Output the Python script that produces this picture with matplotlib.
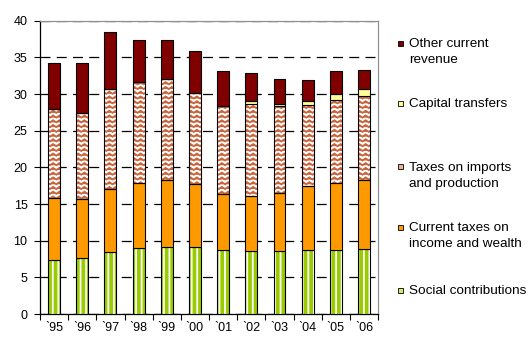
import warnings
import numpy as np
import matplotlib
matplotlib.use('Agg')
import matplotlib.pyplot as plt
from matplotlib import hatch as mhatch
from matplotlib.path import Path
from matplotlib.patches import Rectangle

warnings.filterwarnings('ignore')

# data
years = ['`95', '`96', '`97', '`98', '`99', '`00', '`01', '`02', '`03', '`04', '`05', '`06']
social = [7.3, 7.7, 8.4, 8.95, 9.2, 9.2, 8.7, 8.55, 8.55, 8.7, 8.7, 8.8]
income = [8.5, 7.95, 8.7, 8.85, 9.1, 8.5, 7.7, 7.55, 8.0, 8.7, 9.1, 9.5]
imports = [12.2, 11.75, 13.6, 13.8, 13.8, 12.5, 11.9, 12.55, 11.85, 11.1, 11.4, 11.4]
capital = [0.0, 0.0, 0.0, 0.0, 0.0, 0.0, 0.1, 0.35, 0.3, 0.5, 0.8, 1.0]
other = [6.2, 6.8, 7.7, 5.8, 5.2, 5.7, 4.75, 3.9, 3.3, 2.9, 3.15, 2.6]

labels = ['Other current\nrevenue', 'Capital transfers', 'Taxes on imports\nand production',
          'Current taxes on\nincome and wealth', 'Social contributions']
colors = ['#800000', '#ffff99', '#f0b090', '#ff9900', '#ccee66']


# zigzag hatch like the excel fill ('~')
class WaveHatch(mhatch.HatchPatternBase):
    def __init__(self, hatch, density):
        self.rows = 21 if '~' in hatch else 0
        self.humps = 16
        self.num_vertices = self.rows * (2 * self.humps + 1)

    def set_vertices_and_codes(self, vertices, codes):
        n = 2 * self.humps + 1
        xs = np.linspace(0, 1, n)
        step = 1.0 / self.rows
        for i in range(self.rows):
            base = (i + 0.3) * step
            ys = base + np.where(np.arange(n) % 2 == 1, 0.45 * step, 0.0)
            vertices[i * n:(i + 1) * n, 0] = xs
            vertices[i * n:(i + 1) * n, 1] = ys
            codes[i * n] = Path.MOVETO
            codes[i * n + 1:(i + 1) * n] = Path.LINETO


mhatch._hatch_types.append(WaveHatch)

plt.rcParams['font.family'] = ['Liberation Sans', 'DejaVu Sans']
plt.rcParams['hatch.linewidth'] = 1.3

W, H = 529, 338
fig = plt.figure(figsize=(W / 100, H / 100), dpi=100)
ax = fig.add_axes([0.0756, 0.071, 0.639, 0.8678])

x = np.arange(len(years))
w = 0.42
social = np.array(social)
income = np.array(income)
imports = np.array(imports)
capital = np.array(capital)
other = np.array(other)

b1 = social
b2 = b1 + income
b3 = b2 + imports
b4 = b3 + capital

ax.bar(x, social, w, color='#99cc00', edgecolor='white', hatch='|||', linewidth=0, zorder=3)
ax.bar(x, social, w, fill=False, edgecolor='black', linewidth=0.8, zorder=4)
ax.bar(x, income, w, bottom=b1, color='#ff9900', edgecolor='black', linewidth=0.8, zorder=4)
ax.bar(x, imports, w, bottom=b2, color='white', edgecolor='#c8643c', hatch='~', linewidth=0, zorder=3)
ax.bar(x, imports, w, bottom=b2, fill=False, edgecolor='black', linewidth=0.8, zorder=4)
ax.bar(x, capital, w, bottom=b3, color='#ffff99', edgecolor='black', linewidth=0.8, zorder=4)
ax.bar(x, other, w, bottom=b4, color='#800000', edgecolor='black', linewidth=0.8, zorder=4)

ax.set_xlim(-0.5, len(years) - 0.5)
ax.set_ylim(0, 40)
ax.set_yticks(np.arange(0, 41, 5))
ax.set_xticks(x)
ax.set_xticklabels(years)
ax.set_xticks(np.arange(-0.5, len(years), 1), minor=True)
ax.tick_params(axis='x', which='major', length=0, pad=6, labelsize=9)
ax.tick_params(axis='x', which='minor', length=4, direction='out', width=0.8)
ax.tick_params(axis='y', length=4, direction='out', width=0.8, pad=5, labelsize=9)

ax.yaxis.grid(True, color='black', linestyle=(0, (8, 5)), linewidth=0.9, zorder=1)
ax.set_axisbelow(True)
for s in ['top', 'right']:
    ax.spines[s].set_color('#909090')
    ax.spines[s].set_linewidth(0.9)
ax.spines['left'].set_linewidth(0.9)
ax.spines['bottom'].set_linewidth(0.9)

# legend entries, excel style: uneven vertical spacing
first_line = [43, 103, 167, 227, 290]  # pixel centre of first text line
line_gap = 16
for lab, col, yc in zip(labels, colors, first_line):
    fig.add_artist(Rectangle(((398) / W, 1 - (yc + 2.5) / H), 5 / W, 5 / H,
                             facecolor=col, edgecolor='black', linewidth=0.6,
                             transform=fig.transFigure))
    extra = (lab.count('\n')) * line_gap
    fig.text(409 / W, 1 - (yc + 4 + extra) / H, lab, fontsize=9.7, va='baseline',
             ha='left', linespacing=1.4)

fig.savefig('out.png', dpi=100)
